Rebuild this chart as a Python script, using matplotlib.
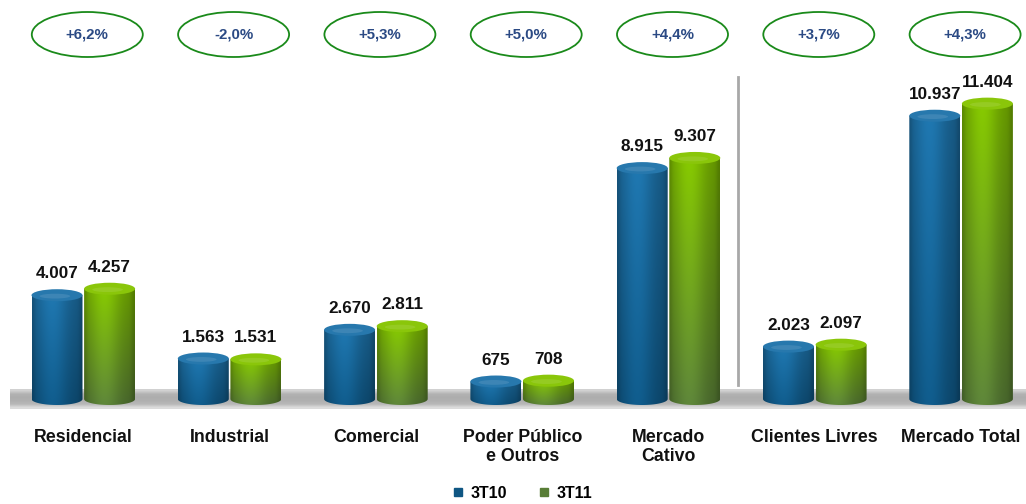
import numpy as np
import matplotlib
matplotlib.use("Agg")
import matplotlib.pyplot as plt
from matplotlib.patches import Ellipse, PathPatch
from matplotlib.path import Path
from matplotlib.lines import Line2D
from matplotlib.colors import to_rgb
import matplotlib.transforms as mtransforms

plt.rcParams['font.family'] = ['Liberation Sans', 'DejaVu Sans']

# dados
categorias = ["Residencial", "Industrial", "Comercial", "Poder Público\ne Outros",
              "Mercado\nCativo", "Clientes Livres", "Mercado Total"]
v_3t10 = [4007, 1563, 2670, 675, 8915, 2023, 10937]
v_3t11 = [4257, 1531, 2811, 708, 9307, 2097, 11404]
variacao = ["+6,2%", "-2,0%", "+5,3%", "+5,0%", "+4,4%", "+3,7%", "+4,3%"]
series = ["3T10", "3T11"]

# cores (topo, base, tampa)
azul = ("#1d6fa4", "#0f5683", "#2778ad")
verde = ("#7dbb00", "#587d36", "#8ac60a")

# escala em pixels: centro da categoria 0 em x=83.3, passo 146.3 px
# valor 0 em y=399 px (a partir do topo), 0.0259 px por unidade
PASSO = 146.3
X0 = 83.3
Y0 = 399.0
ESC = 0.0259
W, H = 1026, 504


def fmt(v):
    return f"{v:,}".replace(",", ".")


def cilindro(ax, xc, v, w, ry, cores):
    topo, base, tampa = [np.array(to_rgb(c)) for c in cores]
    x0, x1 = xc - w / 2, xc + w / 2
    t = np.linspace(np.pi, 2 * np.pi, 50)
    arco = list(zip(xc + w / 2 * np.cos(t), ry * np.sin(t)))
    verts = [(x0, v)] + arco + [(x1, v), (x0, v)]
    codes = [Path.MOVETO] + [Path.LINETO] * (len(verts) - 2) + [Path.CLOSEPOLY]
    clip = PathPatch(Path(verts, codes), fc="none", ec="none", zorder=3)
    ax.add_patch(clip)

    nx, ny = 80, 120
    tx = np.linspace(0, 1, nx)
    sombra = 0.78 + 0.30 * np.exp(-((tx - 0.40) / 0.32) ** 2)
    sombra -= 0.12 * np.exp(-((tx - 1.0) / 0.07) ** 2) + 0.10 * np.exp(-(tx / 0.06) ** 2)
    fr = np.linspace(0, 1, ny)[:, None, None]
    cor = base[None, None, :] * (1 - fr) + topo[None, None, :] * fr
    img = np.clip(cor * sombra[None, :, None], 0, 1)
    im = ax.imshow(img, extent=(x0, x1, -ry, v), origin="lower", aspect="auto",
                   interpolation="bilinear", zorder=3)
    im.set_clip_path(clip)

    ax.add_patch(Ellipse((xc, v), w, 2 * ry, fc=tampa, ec="none", zorder=4))
    ax.add_patch(Ellipse((xc - w * 0.04, v - ry * 0.15), w * 0.6, ry * 0.8,
                         fc="white", ec="none", alpha=0.10, zorder=4))


fig = plt.figure(figsize=(W / 100, H / 100), dpi=100)
ax = fig.add_axes([0, 0, 1, 1])
ax.axis("off")

xlim = (-X0 / PASSO, (W - X0) / PASSO)
ylim = ((Y0 - H) / ESC, Y0 / ESC)

# piso cinza
piso_y0 = (Y0 - 409) / ESC
piso_y1 = (Y0 - 389) / ESC
g = np.array([0.82, 0.70, 0.68, 0.69, 0.72, 0.86])[:, None, None] * np.ones((1, 2, 3))
ax.imshow(g[::-1], extent=((10 - X0) / PASSO, xlim[1], piso_y0, piso_y1),
          origin="lower", aspect="auto", interpolation="bilinear", zorder=2)

larg = 51 / PASSO
desl = 26.3 / PASSO
ry = 6 / ESC
x = np.arange(len(categorias))

for i in x:
    for k, (vals, cores) in enumerate(((v_3t10, azul), (v_3t11, verde))):
        xc = i + (-desl if k == 0 else desl)
        v = vals[i]
        cilindro(ax, xc, v, larg, ry, cores)
        ax.annotate(fmt(v), (xc, v), xytext=(0, 10), textcoords="offset points",
                    ha="center", va="bottom", fontsize=12.3, fontweight="bold",
                    color="#111111", zorder=6)

# rótulos das categorias
trans = mtransforms.blended_transform_factory(ax.transData, ax.transAxes)
for i, nome in enumerate(categorias):
    ax.text(i, 1 - 429 / H, nome, transform=trans, ha="center", va="top",
            fontsize=12.8, fontweight="bold", color="#111111", linespacing=1.12)

# elipses de variação
for i, txt in enumerate(variacao):
    xc = i + 4 / PASSO
    ax.add_patch(Ellipse((xc, 1 - 34.5 / H), 111 / PASSO, 45 / H, transform=trans,
                         fc="white", ec="#1a8a1a", lw=1.3, zorder=5))
    ax.text(xc, 1 - 34.5 / H, txt, transform=trans, ha="center", va="center",
            fontsize=10.8, fontweight="bold", color="#2b4a84", zorder=6)

# linha separadora
ax.axvline((738 - X0) / PASSO, ymin=1 - 385 / H, ymax=1 - 77 / H, color="#a8a8a8", lw=2, zorder=1)

ax.set_xlim(*xlim)
ax.set_ylim(*ylim)

handles = [Line2D([], [], marker="s", ls="", color=azul[1], markersize=6),
           Line2D([], [], marker="s", ls="", color=verde[1], markersize=6)]
leg = fig.legend(handles, series, loc="center", bbox_to_anchor=(521 / W, 1 - 493 / H), ncol=2,
                 frameon=False, handletextpad=0.3, columnspacing=1.8, handlelength=1.0,
                 prop={"weight": "bold", "size": 11.5})

fig.savefig("out.png", dpi=100)
